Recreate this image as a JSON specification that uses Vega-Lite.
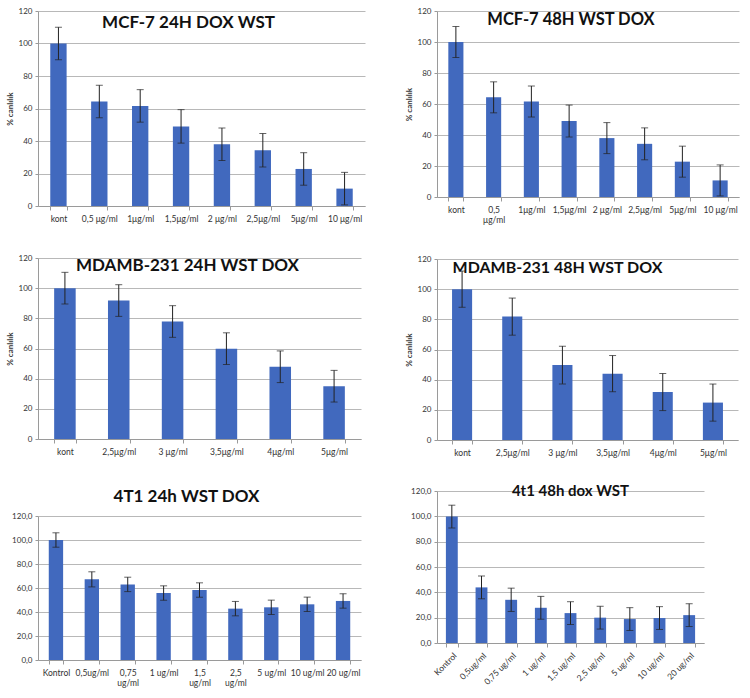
{
  "$schema": "https://vega.github.io/schema/vega-lite/v6.json",
  "padding": {"left": 6, "top": 7, "right": 5, "bottom": 2},
  "background": "white",
  "config": {
    "view": {"stroke": null},
    "font": "Lato",
    "axis": {"labelFont": "Lato", "titleFont": "Lato", "labelColor": "#333", "titleColor": "#333", "domainColor": "#9a9a9a", "tickColor": "#9a9a9a", "gridColor": "#b8b8b8"},
    "title": {"font": "Lato", "fontWeight": "bold", "color": "#111", "anchor": "middle", "baseline": "middle", "offset": 0}
  },
  "datasets": {
    "d": [
      {"panel": "p1", "dose": "kont", "value": 100, "err": 10},
      {"panel": "p1", "dose": "0,5 μg/ml", "value": 64.3, "err": 10},
      {"panel": "p1", "dose": "1μg/ml", "value": 61.6, "err": 10},
      {"panel": "p1", "dose": "1,5μg/ml", "value": 49, "err": 10.3},
      {"panel": "p1", "dose": "2 μg/ml", "value": 38, "err": 10},
      {"panel": "p1", "dose": "2,5μg/ml", "value": 34.3, "err": 10.3},
      {"panel": "p1", "dose": "5μg/ml", "value": 22.8, "err": 10},
      {"panel": "p1", "dose": "10 μg/ml", "value": 10.7, "err": 10},
      {"panel": "p2", "dose": "kont", "value": 100, "err": 10},
      {"panel": "p2", "dose": "0,5 μg/ml", "value": 64.3, "err": 10},
      {"panel": "p2", "dose": "1μg/ml", "value": 61.6, "err": 10},
      {"panel": "p2", "dose": "1,5μg/ml", "value": 49, "err": 10.3},
      {"panel": "p2", "dose": "2 μg/ml", "value": 38, "err": 10},
      {"panel": "p2", "dose": "2,5μg/ml", "value": 34.3, "err": 10.3},
      {"panel": "p2", "dose": "5μg/ml", "value": 22.8, "err": 10},
      {"panel": "p2", "dose": "10 μg/ml", "value": 10.7, "err": 10},
      {"panel": "p3", "dose": "kont", "value": 100, "err": 10.5},
      {"panel": "p3", "dose": "2,5μg/ml", "value": 91.8, "err": 10.5},
      {"panel": "p3", "dose": "3 μg/ml", "value": 77.9, "err": 10.5},
      {"panel": "p3", "dose": "3,5μg/ml", "value": 59.9, "err": 10.5},
      {"panel": "p3", "dose": "4μg/ml", "value": 47.9, "err": 10.5},
      {"panel": "p3", "dose": "5μg/ml", "value": 35, "err": 10.5},
      {"panel": "p4", "dose": "kont", "value": 100, "err": 12},
      {"panel": "p4", "dose": "2,5μg/ml", "value": 81.8, "err": 12.3},
      {"panel": "p4", "dose": "3 μg/ml", "value": 49.7, "err": 12.5},
      {"panel": "p4", "dose": "3,5μg/ml", "value": 44, "err": 12},
      {"panel": "p4", "dose": "4μg/ml", "value": 31.8, "err": 12.3},
      {"panel": "p4", "dose": "5μg/ml", "value": 24.8, "err": 12.3},
      {"panel": "p5", "dose": "Kontrol", "value": 100, "err": 6},
      {"panel": "p5", "dose": "0,5ug/ml", "value": 67.2, "err": 6.3},
      {"panel": "p5", "dose": "0,75 ug/ml", "value": 63, "err": 6},
      {"panel": "p5", "dose": "1 ug/ml", "value": 55.8, "err": 6},
      {"panel": "p5", "dose": "1,5 ug/ml", "value": 58.3, "err": 6},
      {"panel": "p5", "dose": "2,5 ug/ml", "value": 42.8, "err": 6},
      {"panel": "p5", "dose": "5 ug/ml", "value": 43.9, "err": 6},
      {"panel": "p5", "dose": "10 ug/ml", "value": 46.4, "err": 6},
      {"panel": "p5", "dose": "20 ug/ml", "value": 49.2, "err": 6},
      {"panel": "p6", "dose": "Kontrol", "value": 99.8, "err": 9},
      {"panel": "p6", "dose": "0,5ug/ml", "value": 43.9, "err": 9},
      {"panel": "p6", "dose": "0,75 ug/ml", "value": 34.1, "err": 9.2},
      {"panel": "p6", "dose": "1 ug/ml", "value": 27.8, "err": 9},
      {"panel": "p6", "dose": "1,5 ug/ml", "value": 23.6, "err": 9},
      {"panel": "p6", "dose": "2,5 ug/ml", "value": 20, "err": 9},
      {"panel": "p6", "dose": "5 ug/ml", "value": 18.9, "err": 9},
      {"panel": "p6", "dose": "10 ug/ml", "value": 19.7, "err": 9},
      {"panel": "p6", "dose": "20 ug/ml", "value": 22, "err": 9}
    ]
  },
  "hconcat": [
    {
      "spacing": 20,
      "vconcat": [
        {
          "data": {"name": "d"},
          "width": 327, "height": 195,
          "title": {"text": "MCF-7 24H DOX WST", "fontSize": 17, "dy": 29, "dx": -13},
          "transform": [{"filter": "datum.panel == 'p1'"}],
          "encoding": {
            "x": {"field": "dose", "type": "nominal", "sort": null, "scale": {"paddingInner": 0.6, "paddingOuter": 0.3},
                  "axis": {"title": null, "labelAngle": 0, "tickBand": "extent", "tickSize": 4, "labelFontSize": 8.5, "labelPadding": 4, "minExtent": 28}},
            "y": {"field": "value", "type": "quantitative", "scale": {"domain": [0, 120], "nice": false},
                  "axis": {"title": "% canlılık", "values": [0, 20, 40, 60, 80, 100, 120], "tickSize": 3, "labelFontSize": 8, "labelPadding": 3, "titleFontSize": 8, "titleFontWeight": "bold", "titlePadding": 4}}
          },
          "layer": [
            {"mark": {"type": "bar", "color": "#4169be"}},
            {"mark": {"type": "errorbar", "ticks": {"size": 7}, "color": "#222", "thickness": 1}, "encoding": {"yError": {"field": "err"}}}
          ]
        },
        {
          "data": {"name": "d"},
          "width": 323, "height": 181,
          "title": {"text": "MDAMB-231 24H WST DOX", "fontSize": 17, "dy": 25, "dx": -12},
          "transform": [{"filter": "datum.panel == 'p3'"}],
          "encoding": {
            "x": {"field": "dose", "type": "nominal", "sort": null, "scale": {"paddingInner": 0.6, "paddingOuter": 0.3},
                  "axis": {"title": null, "labelAngle": 0, "tickBand": "extent", "tickSize": 4, "labelFontSize": 8.5, "labelPadding": 4, "minExtent": 29}},
            "y": {"field": "value", "type": "quantitative", "scale": {"domain": [0, 120], "nice": false},
                  "axis": {"title": "% canlılık", "values": [0, 20, 40, 60, 80, 100, 120], "tickSize": 3, "labelFontSize": 8, "labelPadding": 3, "titleFontSize": 8, "titleFontWeight": "bold", "titlePadding": 4}}
          },
          "layer": [
            {"mark": {"type": "bar", "color": "#4169be"}},
            {"mark": {"type": "errorbar", "ticks": {"size": 7}, "color": "#222", "thickness": 1}, "encoding": {"yError": {"field": "err"}}}
          ]
        },
        {
          "data": {"name": "d"},
          "width": 323, "height": 144,
          "title": {"text": "4T1 24h WST DOX", "fontSize": 17, "dy": -2, "dx": -13},
          "transform": [{"filter": "datum.panel == 'p5'"}],
          "encoding": {
            "x": {"field": "dose", "type": "nominal", "sort": null, "scale": {"paddingInner": 0.6, "paddingOuter": 0.3},
                  "axis": {"title": null, "labelAngle": 0, "tickBand": "extent", "tickSize": 4, "labelFontSize": 8.5, "labelPadding": 4,
                           "labelExpr": "indexof(['0,75 ug/ml','1,5 ug/ml','2,5 ug/ml'], datum.label) >= 0 ? split(datum.label, ' ') : datum.label"}},
            "y": {"field": "value", "type": "quantitative", "scale": {"domain": [0, 120], "nice": false},
                  "axis": {"title": null, "values": [0, 20, 40, 60, 80, 100, 120], "tickSize": 3, "labelFontSize": 8, "labelPadding": 3, "minExtent": 28,
                           "labelExpr": "replace(format(datum.value, '.1f'), '.', ',')"}}
          },
          "layer": [
            {"mark": {"type": "bar", "color": "#4169be"}},
            {"mark": {"type": "errorbar", "ticks": {"size": 7}, "color": "#222", "thickness": 1}, "encoding": {"yError": {"field": "err"}}}
          ]
        }
      ]
    },
    {
      "spacing": 20,
      "vconcat": [
        {
          "data": {"name": "d"},
          "width": 302, "height": 186,
          "title": {"text": "MCF-7 48H WST DOX", "fontSize": 16.5, "dy": 25, "dx": -17},
          "transform": [{"filter": "datum.panel == 'p2'"}],
          "encoding": {
            "x": {"field": "dose", "type": "nominal", "sort": null, "scale": {"paddingInner": 0.6, "paddingOuter": 0.3},
                  "axis": {"title": null, "labelAngle": 0, "tickBand": "extent", "tickSize": 4, "labelFontSize": 8.5, "labelPadding": 4, "minExtent": 38,
                           "labelExpr": "datum.label == '0,5 μg/ml' ? ['0,5', 'μg/ml'] : datum.label"}},
            "y": {"field": "value", "type": "quantitative", "scale": {"domain": [0, 120], "nice": false},
                  "axis": {"title": "% canlılık", "values": [0, 20, 40, 60, 80, 100, 120], "tickSize": 3, "labelFontSize": 8, "labelPadding": 3, "titleFontSize": 8, "titleFontWeight": "bold", "titlePadding": 4}}
          },
          "layer": [
            {"mark": {"type": "bar", "color": "#4169be"}},
            {"mark": {"type": "errorbar", "ticks": {"size": 7}, "color": "#222", "thickness": 1}, "encoding": {"yError": {"field": "err"}}}
          ]
        },
        {
          "data": {"name": "d"},
          "width": 301, "height": 181,
          "title": {"text": "MDAMB-231 48H WST DOX", "fontSize": 16, "dy": 25, "dx": -30},
          "transform": [{"filter": "datum.panel == 'p4'"}],
          "encoding": {
            "x": {"field": "dose", "type": "nominal", "sort": null, "scale": {"paddingInner": 0.6, "paddingOuter": 0.3},
                  "axis": {"title": null, "labelAngle": 0, "tickBand": "extent", "tickSize": 4, "labelFontSize": 8.5, "labelPadding": 4, "minExtent": 24}},
            "y": {"field": "value", "type": "quantitative", "scale": {"domain": [0, 120], "nice": false},
                  "axis": {"title": "% canlılık", "values": [0, 20, 40, 60, 80, 100, 120], "tickSize": 3, "labelFontSize": 8, "labelPadding": 3, "titleFontSize": 8, "titleFontWeight": "bold", "titlePadding": 4}}
          },
          "layer": [
            {"mark": {"type": "bar", "color": "#4169be"}},
            {"mark": {"type": "errorbar", "ticks": {"size": 7}, "color": "#222", "thickness": 1}, "encoding": {"yError": {"field": "err"}}}
          ]
        },
        {
          "data": {"name": "d"},
          "width": 267, "height": 152,
          "title": {"text": "4t1 48h dox WST", "fontSize": 15, "dy": 16, "dx": 0},
          "transform": [{"filter": "datum.panel == 'p6'"}],
          "encoding": {
            "x": {"field": "dose", "type": "nominal", "sort": null, "scale": {"paddingInner": 0.6, "paddingOuter": 0.3},
                  "axis": {"title": null, "labelAngle": -45, "tickBand": "extent", "tickSize": 4, "labelFontSize": 8.5, "labelPadding": 4}},
            "y": {"field": "value", "type": "quantitative", "scale": {"domain": [0, 120], "nice": false},
                  "axis": {"title": null, "values": [0, 20, 40, 60, 80, 100, 120], "tickSize": 3, "labelFontSize": 8, "labelPadding": 3, "minExtent": 28,
                           "labelExpr": "replace(format(datum.value, '.1f'), '.', ',')"}}
          },
          "layer": [
            {"mark": {"type": "bar", "color": "#4169be"}},
            {"mark": {"type": "errorbar", "ticks": {"size": 7}, "color": "#222", "thickness": 1}, "encoding": {"yError": {"field": "err"}}}
          ]
        }
      ]
    }
  ],
  "spacing": 40
}
